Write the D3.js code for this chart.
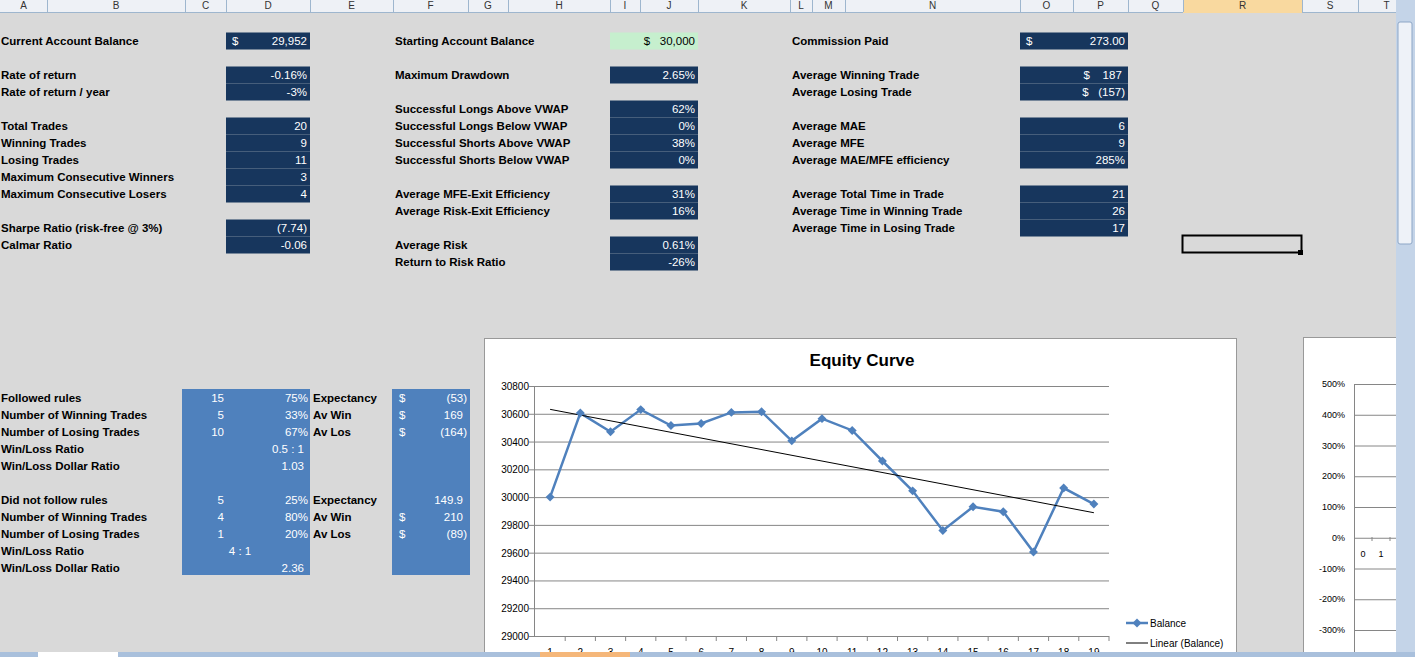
<!DOCTYPE html>
<html><head><meta charset="utf-8">
<script src="https://cdn.jsdelivr.net/npm/d3@7"></script>
<style>body{margin:0;background:#d9d9d9;overflow:hidden}svg{display:block;font-family:"Liberation Sans Narrow","Liberation Sans",Arial,sans-serif}text{white-space:pre}</style>
</head><body><svg id="s" width="1415" height="657"></svg>
<script>
const trades=d3.range(1,20);
const balance=[30000,30605,30470,30630,30515,30530,30610,30615,30405,30565,30480,30260,30045,29760,29930,29895,29605,30065,29950];
const yTicks=[29000,29200,29400,29600,29800,30000,30200,30400,30600,30800];
const pctTicks=["500%","400%","300%","200%","100%","0%","-100%","-200%","-300%"];
const colNames=["A","B","C","D","E","F","G","H","I","J","K","L","M","N","O","P","Q","R","S","T"];
const colEdges=[0,47,185,226,310,393,468,508,610,640,698,790,812,845,1020,1073,1128,1183,1302,1358,1415];
const leftStats=[[0,"Current Account Balance","29,952","$"],[2,"Rate of return","-0.16%"],[3,"Rate of return / year","-3%"],[5,"Total Trades","20"],[6,"Winning Trades","9"],[7,"Losing Trades","11"],[8,"Maximum Consecutive Winners","3"],[9,"Maximum Consecutive Losers","4"],[11,"Sharpe Ratio (risk-free @ 3%)","(7.74)"],[12,"Calmar Ratio","-0.06"]];
const midStats=[[0,"Starting Account Balance","$   30,000"],[2,"Maximum Drawdown","2.65%"],[4,"Successful Longs Above VWAP","62%"],[5,"Successful Longs Below VWAP","0%"],[6,"Successful Shorts Above VWAP","38%"],[7,"Successful Shorts Below VWAP","0%"],[9,"Average MFE-Exit Efficiency","31%"],[10,"Average Risk-Exit Efficiency","16%"],[12,"Average Risk","0.61%"],[13,"Return to Risk Ratio","-26%"]];
const rightStats=[[0,"Commission Paid","273.00","$"],[2,"Average Winning Trade","$    187 "],[3,"Average Losing Trade","$   (157)"],[5,"Average MAE","6"],[6,"Average MFE","9"],[7,"Average MAE/MFE efficiency","285%"],[9,"Average Total Time in Trade","21"],[10,"Average Time in Winning Trade","26"],[11,"Average Time in Losing Trade","17"]];
const rulesRows=[[0,"Followed rules","15","75%","Expectancy","$","(53)"],[1,"Number of Winning Trades","5","33%","Av Win","$","169"],[2,"Number of Losing Trades","10","67%","Av Los","$","(164)"],[3,"Win/Loss Ratio","","0.5 : 1","","",""],[4,"Win/Loss Dollar Ratio","","1.03","","",""],
[6,"Did not follow rules","5","25%","Expectancy","","149.9"],[7,"Number of Winning Trades","4","80%","Av Win","$","210"],[8,"Number of Losing Trades","1","20%","Av Los","$","(89)"],[9,"Win/Loss Ratio","4 : 1","","","",""],[10,"Win/Loss Dollar Ratio","","2.36","","",""]];

const svg=d3.select("#s");
const navy="#17365d", blue="#4f81bd";
const fs=11.5;
svg.append("rect").attr("width",1415).attr("height",13).attr("fill","#eef1f6");
svg.append("line").attr("x1",0).attr("x2",1415).attr("y1",12.5).attr("y2",12.5).attr("stroke","#9eb6ce");
svg.append("rect").attr("x",colEdges[17]).attr("width",colEdges[18]-colEdges[17]).attr("height",13).attr("fill","#f9d99f");
colNames.forEach((c,i)=>{
  svg.append("line").attr("x1",colEdges[i+1]+.5).attr("x2",colEdges[i+1]+.5).attr("y1",0).attr("y2",12).attr("stroke","#9eb6ce");
  svg.append("text").attr("x",(colEdges[i]+colEdges[i+1])/2).attr("y",9).attr("text-anchor","middle").attr("font-size",10).attr("fill","#333").text(c);
});
const rowY=r=>41+r*17;
function group(stats,x0,x1,lx,fill){
  stats.forEach(s=>{
    const y=rowY(s[0]);
    svg.append("rect").attr("x",x0).attr("y",y-8.5).attr("width",x1-x0).attr("height",17).attr("fill",fill);
    svg.append("text").attr("x",lx).attr("y",y+4).attr("font-size",fs).attr("font-weight","bold").text(s[1]);
    svg.append("text").attr("x",x1-3).attr("y",y+4).attr("text-anchor","end").attr("font-size",fs).attr("fill",fill==navy?"#fff":"#000").text(s[2]);
    if(s[3]) svg.append("text").attr("x",x0+6).attr("y",y+4).attr("font-size",fs).attr("fill","#fff").text(s[3]);
  });
}
group(leftStats,226,310,1,navy);
group(midStats.slice(0,1),610,698,395,"#c6efce");
group(midStats.slice(1),610,698,395,navy);
group(rightStats,1020,1128,792,navy);
svg.append("rect").attr("x",1182.5).attr("y",235.5).attr("width",119).attr("height",17).attr("fill","none").attr("stroke","#000").attr("stroke-width",2);
svg.append("rect").attr("x",1298).attr("y",250).attr("width",5).attr("height",5).attr("fill","#000");
svg.append("rect").attr("x",182).attr("y",389).attr("width",128).attr("height",186).attr("fill",blue);
svg.append("rect").attr("x",392).attr("y",389).attr("width",78).attr("height",186).attr("fill",blue);
rulesRows.forEach(r=>{
  const y=398+r[0]*17+4;
  const t=(x,txt,a,c,b)=>svg.append("text").attr("x",x).attr("y",y).attr("text-anchor",a).attr("font-size",fs).attr("fill",c).attr("font-weight",b?"bold":null).text(txt);
  t(1,r[1],"start","#000",1);
  if(r[2]) t(r[1].startsWith("Win/Loss")?240:224,r[2],r[1].startsWith("Win/Loss")?"middle":"end","#fff");
  if(r[3]) t(r[3].includes(":")||r[0]==4||r[0]==10?304:308,r[3],"end","#fff");
  if(r[4]) t(313,r[4],"start","#000",1);
  if(r[5]) t(399,r[5],"start","#fff");
  if(r[6]) t(r[6].startsWith("(")?467:463,r[6],"end","#fff");
});
const cg=svg.append("g");
cg.append("rect").attr("x",484.5).attr("y",338.5).attr("width",752).attr("height",330).attr("fill","#fff").attr("stroke","#999");
cg.append("text").attr("x",862).attr("y",366).attr("text-anchor","middle").attr("font-size",17).attr("font-weight","bold").attr("font-family","Liberation Sans, Arial").text("Equity Curve");
const x=d3.scaleBand().domain(trades).range([535,1109]);
const y=d3.scaleLinear().domain([29000,30800]).range([636,386]);
yTicks.forEach(t=>{
  cg.append("line").attr("x1",534).attr("x2",1109).attr("y1",y(t)+.5).attr("y2",y(t)+.5).attr("stroke","#868686");
  cg.append("text").attr("x",529).attr("y",y(t)+4).attr("text-anchor","end").attr("font-size",10).text(t);
  cg.append("line").attr("x1",529).attr("x2",534).attr("y1",y(t)+.5).attr("y2",y(t)+.5).attr("stroke","#868686");
});
cg.append("line").attr("x1",534.5).attr("x2",534.5).attr("y1",386).attr("y2",636).attr("stroke","#868686");
trades.forEach(t=>{
  const xx=x(t)+x.bandwidth();
  cg.append("line").attr("x1",xx).attr("x2",xx).attr("y1",636).attr("y2",641).attr("stroke","#868686");
  cg.append("text").attr("x",x(t)+x.bandwidth()/2).attr("y",656).attr("text-anchor","middle").attr("font-size",10).text(t);
});
const cx=t=>x(t)+x.bandwidth()/2;
cg.append("path").datum(balance).attr("fill","none").attr("stroke","#4f81bd").attr("stroke-width",2.5)
  .attr("d",d3.line().x((d,i)=>cx(trades[i])).y(d=>y(d)));
const mx=d3.mean(trades), my=d3.mean(balance);
const slope=d3.sum(trades,(t,i)=>(t-mx)*(balance[i]-my))/d3.sum(trades,t=>(t-mx)**2);
const fit=t=>my+slope*(t-mx);
cg.append("line").attr("x1",cx(1)).attr("x2",cx(19)).attr("y1",y(fit(1))).attr("y2",y(fit(19))).attr("stroke","#000").attr("stroke-width",1);
const dia=d3.symbol().type(d3.symbolSquare).size(40);
balance.forEach((d,i)=>cg.append("path").attr("d",dia).attr("transform",`translate(${cx(trades[i])},${y(d)}) rotate(45)`).attr("fill","#4f81bd"));
cg.append("line").attr("x1",1126).attr("x2",1148).attr("y1",623).attr("y2",623).attr("stroke","#4f81bd").attr("stroke-width",2.5);
cg.append("path").attr("d",dia).attr("transform","translate(1137,623) rotate(45)").attr("fill","#4f81bd");
cg.append("text").attr("x",1150).attr("y",627).attr("font-size",10).text("Balance");
cg.append("line").attr("x1",1126).attr("x2",1148).attr("y1",643).attr("y2",643).attr("stroke","#000");
cg.append("text").attr("x",1150).attr("y",647).attr("font-size",10).text("Linear (Balance)");
const pg=svg.append("g");
pg.append("rect").attr("x",1303.5).attr("y",337.5).attr("width",100).attr("height",330).attr("fill","#fff").attr("stroke","#999");
const py=d3.scalePoint().domain(pctTicks).range([384,630]);
pctTicks.forEach(t=>{
  pg.append("line").attr("x1",1354).attr("x2",1400).attr("y1",py(t)+.5).attr("y2",py(t)+.5).attr("stroke","#868686");
  pg.append("text").attr("x",1345).attr("y",py(t)+3).attr("text-anchor","end").attr("font-size",9).text(t);
});
pg.append("line").attr("x1",1354.5).attr("x2",1354.5).attr("y1",384).attr("y2",657).attr("stroke","#868686");
["0","1"].forEach((t,i)=>{pg.append("text").attr("x",1363+i*18).attr("y",557).attr("text-anchor","middle").attr("font-size",9).text(t);
  pg.append("line").attr("x1",1372+i*18).attr("x2",1372+i*18).attr("y1",537).attr("y2",541).attr("stroke","#868686");});
svg.append("rect").attr("x",1396).attr("y",0).attr("width",19).attr("height",657).attr("fill","#c4d4e8");
svg.append("rect").attr("x",1398).attr("y",22).attr("width",14).attr("height",222).attr("rx",2).attr("fill","#eef2f8").attr("stroke","#8da6c6");
svg.append("rect").attr("x",0).attr("y",652).attr("width",1415).attr("height",5).attr("fill","#a9c0dc");
svg.append("rect").attr("x",38).attr("y",652).attr("width",80).attr("height",5).attr("fill","#fff");
svg.append("rect").attr("x",540).attr("y",652).attr("width",90).attr("height",5).attr("fill","#f5b77a");
</script></body></html>
